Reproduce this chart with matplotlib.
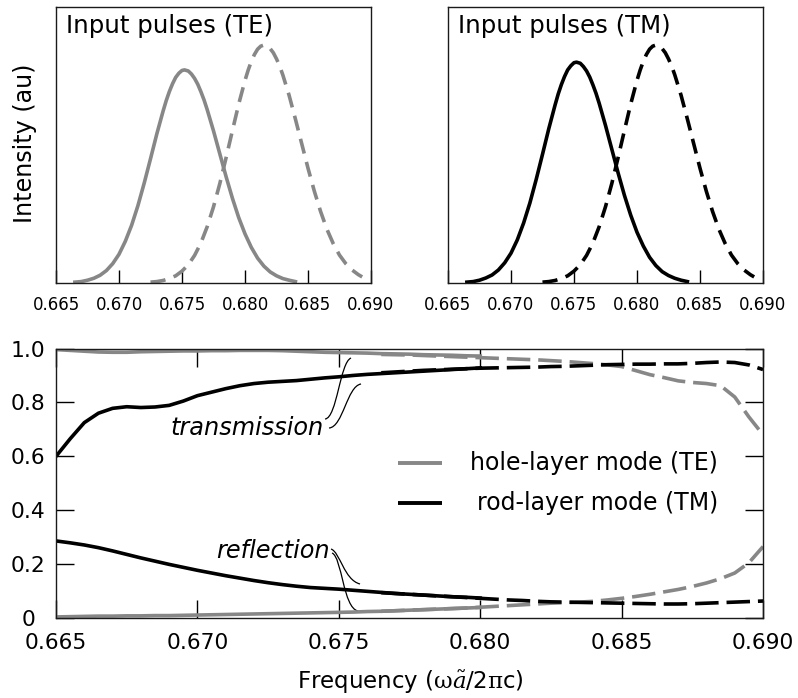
import matplotlib.pyplot as plt
from matplotlib.path import Path
from matplotlib.patches import PathPatch

plt.rcParams['font.family'] = ['DejaVu Sans']

GRAY = '#878787'
BLACK = '#000000'

# ---- input pulse spectra (top panels) ----
pulse_lo_freq = [0.6665, 0.6670, 0.6675, 0.6680, 0.6685, 0.6690, 0.6695, 0.6700, 0.6705,
                 0.6710, 0.6715, 0.6720, 0.6725, 0.6730, 0.6735, 0.67375, 0.6740, 0.67425,
                 0.6745, 0.67475, 0.6750, 0.6752, 0.6755, 0.67575, 0.6760, 0.67625, 0.6765,
                 0.67675, 0.6770, 0.6775, 0.6780, 0.6785, 0.6790, 0.6795, 0.6800, 0.6805,
                 0.6810, 0.6815, 0.6820, 0.6825, 0.6830, 0.6835, 0.6840]
te_pulse_lo = [0.003, 0.005, 0.010, 0.017, 0.028, 0.045, 0.070, 0.104, 0.151,
               0.209, 0.280, 0.362, 0.450, 0.540, 0.623, 0.661, 0.694, 0.722,
               0.745, 0.760, 0.770, 0.772, 0.768, 0.757, 0.741, 0.720, 0.693,
               0.663, 0.628, 0.551, 0.468, 0.385, 0.307, 0.237, 0.178, 0.129,
               0.090, 0.061, 0.040, 0.026, 0.016, 0.010, 0.005]
tm_pulse_lo = [0.003, 0.005, 0.010, 0.018, 0.029, 0.047, 0.073, 0.108, 0.156,
               0.217, 0.290, 0.375, 0.466, 0.559, 0.645, 0.685, 0.719, 0.748,
               0.772, 0.787, 0.798, 0.800, 0.796, 0.784, 0.768, 0.746, 0.718,
               0.687, 0.651, 0.571, 0.485, 0.399, 0.318, 0.246, 0.184, 0.134,
               0.093, 0.063, 0.041, 0.027, 0.017, 0.010, 0.005]

pulse_hi_freq = [0.6725, 0.6730, 0.6735, 0.6740, 0.6745, 0.6750, 0.6755, 0.6760, 0.6765,
                 0.6770, 0.6775, 0.6780, 0.6785, 0.6790, 0.6795, 0.6800, 0.68025, 0.6805,
                 0.68075, 0.6810, 0.68125, 0.6815, 0.68175, 0.6820, 0.68225, 0.6825,
                 0.68275, 0.6830, 0.6835, 0.6840, 0.6845, 0.6850, 0.6855, 0.6860, 0.6865,
                 0.6870, 0.6875, 0.6880, 0.6885, 0.6890, 0.6893]
te_pulse_hi = [0.003, 0.005, 0.009, 0.016, 0.026, 0.043, 0.066, 0.100, 0.145,
               0.204, 0.276, 0.360, 0.454, 0.552, 0.648, 0.734, 0.771, 0.803,
               0.828, 0.847, 0.858, 0.862, 0.859, 0.849, 0.834, 0.812,
               0.786, 0.754, 0.680, 0.594, 0.505, 0.416, 0.333, 0.259, 0.195,
               0.143, 0.101, 0.070, 0.047, 0.030, 0.022]
tm_pulse_hi = [0.003, 0.005, 0.009, 0.016, 0.026, 0.043, 0.066, 0.100, 0.145,
               0.204, 0.276, 0.360, 0.454, 0.552, 0.648, 0.734, 0.771, 0.803,
               0.828, 0.847, 0.858, 0.862, 0.859, 0.849, 0.834, 0.812,
               0.786, 0.754, 0.680, 0.594, 0.505, 0.416, 0.333, 0.259, 0.195,
               0.143, 0.101, 0.070, 0.047, 0.030, 0.022]

# ---- transmission / reflection spectra (bottom panel) ----
# solid part: within the first pulse bandwidth
freq_lo = [0.6650, 0.6655, 0.6660, 0.6665, 0.6670, 0.6675, 0.6680, 0.6685, 0.6690, 0.6695,
           0.6700, 0.6705, 0.6710, 0.6715, 0.6720, 0.6725, 0.6730, 0.6735, 0.6740, 0.6745,
           0.6750, 0.6755, 0.6760, 0.6765, 0.6770, 0.6775, 0.6780, 0.6785, 0.6790, 0.6795,
           0.6800]
te_trans_lo = [0.996, 0.993, 0.990, 0.987, 0.986, 0.986, 0.988, 0.989, 0.990, 0.991,
               0.991, 0.992, 0.992, 0.993, 0.993, 0.993, 0.992, 0.990, 0.988, 0.986,
               0.985, 0.984, 0.983, 0.981, 0.980, 0.979, 0.977, 0.976, 0.975, 0.973,
               0.972]
tm_trans_lo = [0.600, 0.665, 0.725, 0.760, 0.778, 0.784, 0.781, 0.783, 0.789, 0.805,
               0.825, 0.838, 0.851, 0.862, 0.870, 0.875, 0.878, 0.881, 0.886, 0.891,
               0.895, 0.900, 0.904, 0.907, 0.910, 0.913, 0.916, 0.919, 0.922, 0.925,
               0.928]
tm_refl_lo = [0.286, 0.279, 0.271, 0.261, 0.249, 0.236, 0.223, 0.211, 0.199, 0.188,
              0.177, 0.167, 0.157, 0.148, 0.139, 0.131, 0.124, 0.118, 0.113, 0.110,
              0.107, 0.103, 0.099, 0.095, 0.091, 0.088, 0.085, 0.082, 0.079, 0.077,
              0.074]
te_refl_lo = [0.004, 0.005, 0.006, 0.007, 0.007, 0.008, 0.008, 0.009, 0.009, 0.010,
              0.011, 0.012, 0.013, 0.014, 0.015, 0.016, 0.017, 0.018, 0.019, 0.020,
              0.021, 0.022, 0.024, 0.025, 0.027, 0.029, 0.031, 0.033, 0.035, 0.037,
              0.039]

# dashed part: within the second pulse bandwidth
freq_hi = [0.6765, 0.6770, 0.6775, 0.6780, 0.6785, 0.6790, 0.6795, 0.6800, 0.6805, 0.6810,
           0.6815, 0.6820, 0.6825, 0.6830, 0.6835, 0.6840, 0.6845, 0.6850, 0.6855, 0.6860,
           0.6865, 0.6870, 0.6875, 0.6880, 0.6885, 0.6890, 0.6895, 0.6900]
te_trans_hi = [0.978, 0.977, 0.976, 0.974, 0.972, 0.970, 0.968, 0.966, 0.964, 0.962,
               0.960, 0.958, 0.955, 0.952, 0.948, 0.944, 0.939, 0.933, 0.918, 0.903,
               0.892, 0.880, 0.874, 0.870, 0.862, 0.820, 0.746, 0.680]
tm_trans_hi = [0.910, 0.913, 0.916, 0.919, 0.921, 0.923, 0.925, 0.927, 0.928, 0.929,
               0.930, 0.931, 0.933, 0.934, 0.936, 0.938, 0.940, 0.941, 0.942, 0.942,
               0.943, 0.943, 0.945, 0.948, 0.950, 0.948, 0.939, 0.922]
tm_refl_hi = [0.094, 0.091, 0.088, 0.085, 0.082, 0.079, 0.076, 0.073, 0.070, 0.067,
              0.065, 0.062, 0.060, 0.059, 0.058, 0.057, 0.056, 0.055, 0.054, 0.053,
              0.052, 0.052, 0.053, 0.055, 0.057, 0.059, 0.061, 0.063]
te_refl_hi = [0.025, 0.027, 0.029, 0.031, 0.033, 0.035, 0.037, 0.040, 0.043, 0.046,
              0.049, 0.052, 0.055, 0.057, 0.059, 0.062, 0.067, 0.073, 0.080, 0.088,
              0.097, 0.106, 0.117, 0.130, 0.146, 0.167, 0.205, 0.265]

freq_ticks = [0.665, 0.670, 0.675, 0.680, 0.685, 0.690]
freq_labels = ['0.665', '0.670', '0.675', '0.680', '0.685', '0.690']
frac_ticks = [0.0, 0.2, 0.4, 0.6, 0.8, 1.0]
frac_labels = ['0', '0.2', '0.4', '0.6', '0.8', '1.0']

fig = plt.figure(figsize=(7.98, 6.98), dpi=100)
ax_te = fig.add_axes([0.0702, 0.5946, 0.3947, 0.3954])
ax_tm = fig.add_axes([0.5614, 0.5946, 0.3947, 0.3954])
ax = fig.add_axes([0.0702, 0.1146, 0.886, 0.3861])


def style_frame(a):
    for sp in a.spines.values():
        sp.set_linewidth(1.0)
        sp.set_color('#1a1a1a')


def pulse_panel(a, lo, hi, color, title):
    a.plot(pulse_lo_freq, lo, color=color, lw=2.6, clip_on=False)
    a.plot(pulse_hi_freq, hi, color=color, lw=2.6, ls=(0, (4.2, 2.4)), clip_on=False)
    a.set_xlim(0.665, 0.690)
    a.set_ylim(0, 1)
    a.set_yticks([])
    a.set_xticks(freq_ticks)
    a.set_xticklabels(freq_labels, fontsize=12)
    a.tick_params(axis='x', direction='in', length=9.6, width=1.0, pad=9.5)
    a.text(0.032, 0.905, title, transform=a.transAxes, fontsize=17.6, va='baseline')
    style_frame(a)


pulse_panel(ax_te, te_pulse_lo, te_pulse_hi, GRAY, 'Input pulses (TE)')
pulse_panel(ax_tm, tm_pulse_lo, tm_pulse_hi, BLACK, 'Input pulses (TM)')
fig.text(25 / 798, 1 - 143 / 698, 'Intensity (au)', rotation=90,
         ha='center', va='center', fontsize=17.2)

# bottom panel
dash = (0, (6.5, 2.2))
lw = 2.6
ax.plot(freq_lo, te_trans_lo, color=GRAY, lw=lw)
ax.plot(freq_lo, te_refl_lo, color=GRAY, lw=lw)
ax.plot(freq_hi, te_trans_hi, color=GRAY, lw=lw, ls=dash)
ax.plot(freq_hi, te_refl_hi, color=GRAY, lw=lw, ls=dash)
ax.plot(freq_lo, tm_trans_lo, color=BLACK, lw=lw)
ax.plot(freq_lo, tm_refl_lo, color=BLACK, lw=lw)
ax.plot(freq_hi, tm_trans_hi, color=BLACK, lw=lw, ls=dash)
ax.plot(freq_hi, tm_refl_hi, color=BLACK, lw=lw, ls=dash)

ax.set_xlim(0.665, 0.690)
ax.set_ylim(0, 1)
ax.set_xticks(freq_ticks)
ax.set_xticklabels(freq_labels, fontsize=15.7)
ax.set_yticks(frac_ticks)
ax.set_yticklabels(frac_labels, fontsize=15.7)
ax.tick_params(axis='x', direction='in', length=12.7, width=1.0, pad=10.5, top=True)
ax.tick_params(axis='y', direction='in', length=12.7, width=1.0, pad=20, right=True)
for lab in ax.get_yticklabels():
    lab.set_ha('center')
style_frame(ax)

fig.text(410 / 798, 1 - 688 / 698,
         r'Frequency ($\mathrm{\omega}\tilde{a}$/2$\mathrm{\pi}$c)',
         ha='center', va='baseline', fontsize=16.5, math_fontfamily='dejavuserif')

# legend drawn by hand, text right-aligned
ax.plot([0.4837, 0.546], [0.575, 0.575], color=GRAY, lw=2.8, transform=ax.transAxes,
        solid_capstyle='butt')
ax.plot([0.4837, 0.546], [0.4267, 0.4267], color=BLACK, lw=2.8, transform=ax.transAxes,
        solid_capstyle='butt')
ax.text(0.9364, 0.575, 'hole-layer mode (TE)', transform=ax.transAxes,
        ha='right', va='center', fontsize=17)
ax.text(0.9364, 0.4267, 'rod-layer mode (TM)', transform=ax.transAxes,
        ha='right', va='center', fontsize=17)

# curve labels with S-shaped leader lines
ax.text(0.67448, 0.679, 'transmission', style='italic', ha='right', va='baseline',
        fontsize=17.3)
ax.text(0.67469, 0.2226, 'reflection', style='italic', ha='right', va='baseline',
        fontsize=17.3)

leaders = [
    [(0.674512, 0.7384), (0.674936, 0.7421), (0.675042, 0.9499), (0.675431, 0.9647)],
    [(0.674653, 0.7050), (0.675149, 0.7087), (0.675290, 0.8609), (0.675785, 0.8683)],
    [(0.674724, 0.2560), (0.675042, 0.2449), (0.675184, 0.1410), (0.675750, 0.1262)],
    [(0.674760, 0.2412), (0.675113, 0.2263), (0.675149, 0.0371), (0.675679, 0.0260)],
]
codes = [Path.MOVETO, Path.CURVE4, Path.CURVE4, Path.CURVE4]
for pts in leaders:
    ax.add_patch(PathPatch(Path(pts, codes), fill=False, lw=0.9, color=BLACK))

fig.savefig('out.png', dpi=100, facecolor='white')
